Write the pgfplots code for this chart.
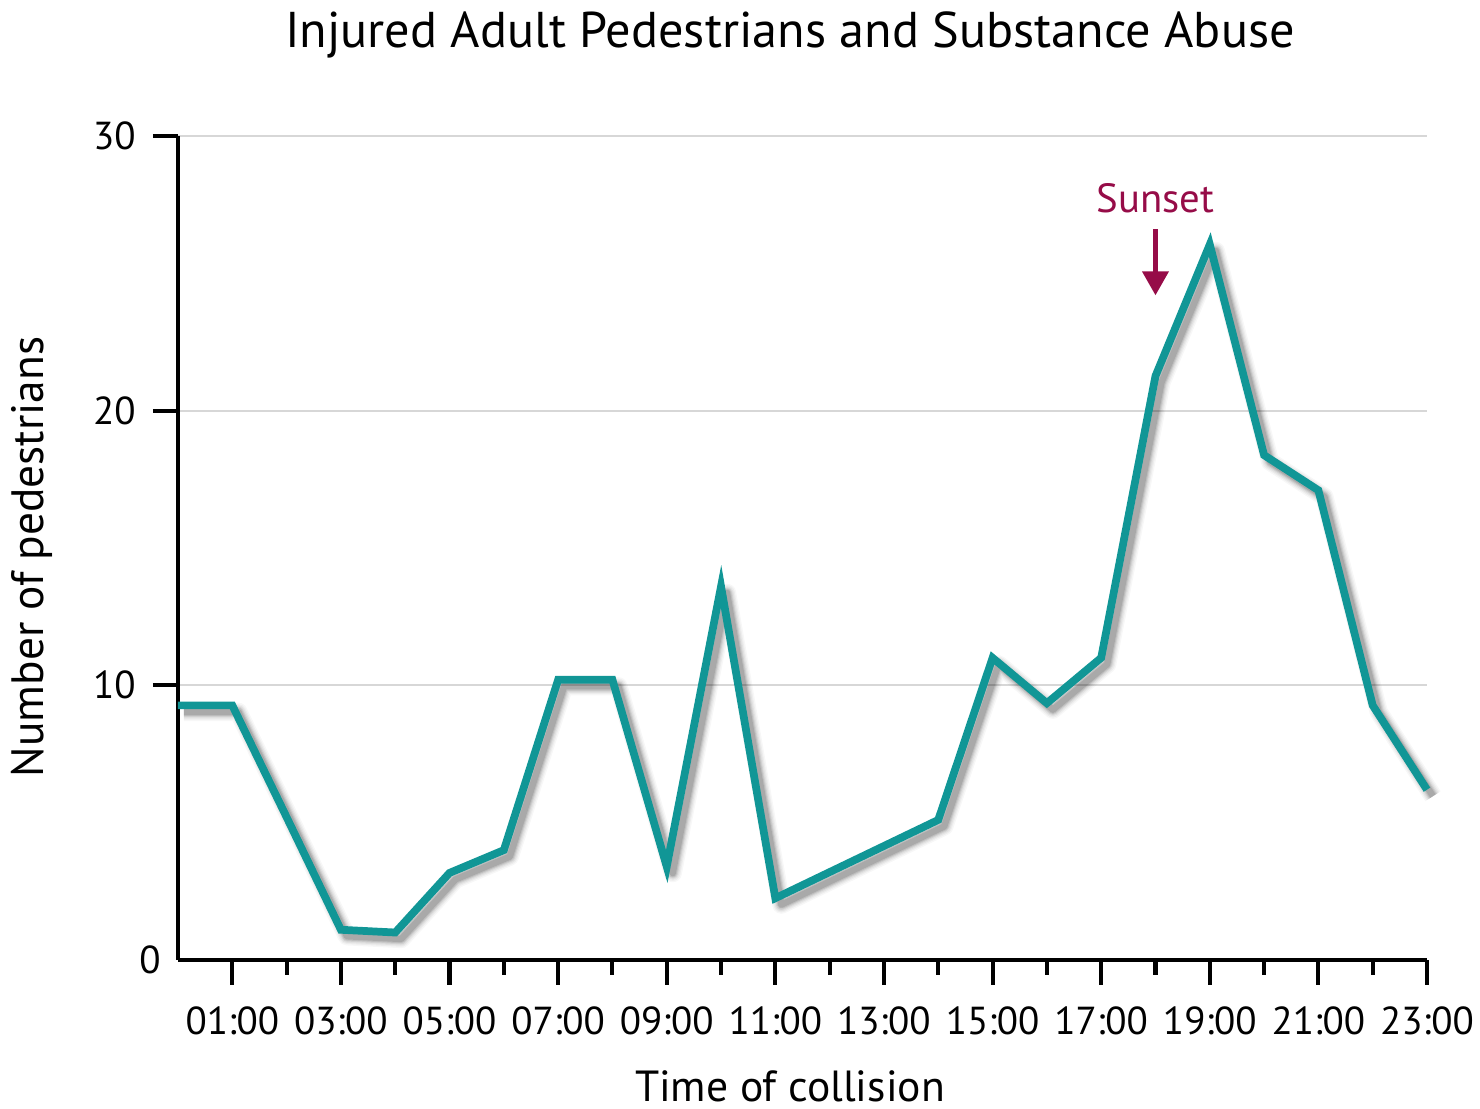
\documentclass[border=0pt]{standalone}
\usepackage{fontspec}
\setmainfont{PT Sans}
\usepackage{pgfplots}
\pgfplotsset{compat=1.18}
\usepackage{pgfplotstable}
\usetikzlibrary{arrows.meta}

\definecolor{lineteal}{RGB}{17,150,150}
\definecolor{sunsetred}{RGB}{150,12,72}
\definecolor{gridgray}{RGB}{215,215,215}

% Injured adult pedestrians by hour of collision
\pgfplotstableread{
hour count
0  9.27
1  9.27
2  5.2
3  1.1
4  1.0
5  3.17
6  4.0
7  10.2
8  10.2
9  3.4
10 13.6
11 2.25
12 3.2
13 4.15
14 5.1
15 11.0
16 9.35
17 11.0
18 21.26
19 26.05
20 18.38
21 17.1
22 9.27
23 6.2
}\pedestrians

\begin{document}
\begin{tikzpicture}
\begin{axis}[
  scale only axis,
  width=124.9mm, height=82.4mm,
  xmin=0, xmax=23, ymin=0, ymax=30,
  axis lines=left,
  axis line style={-, line width=1.15pt, black},
  xtick={1,3,...,23},
  xticklabels={01:00,03:00,05:00,07:00,09:00,11:00,13:00,15:00,17:00,19:00,21:00,23:00},
  minor xtick={2,4,...,22},
  ytick={10,20,30},
  extra y ticks={0},
  extra y tick style={major tick length=0pt, ymajorgrids=false},
  tick align=outside,
  major tick length=2.5mm,
  minor tick length=1.5mm,
  every tick/.style={black, line width=1.15pt},
  ymajorgrids,
  grid style={gridgray, line width=0.6pt},
  /pgf/number format/assume math mode=true,
  tick label style={font=\fontsize{11.1}{13}\selectfont},
  xticklabel style={yshift=-0.9mm},
  yticklabel style={xshift=-0.5mm},
  clip=false,
]
% soft drop shadow beneath the line
\foreach \w/\o in {5.2/0.03, 4.4/0.04, 3.7/0.05, 3.0/0.07, 2.4/0.09, 1.8/0.11} {
  \edef\doshadow{\noexpand\addplot[black, opacity=\o, line width=\w pt, line join=round,
    transform canvas={xshift=0.6mm, yshift=-0.65mm}] table[x=hour, y=count] {\noexpand\pedestrians};}
  \doshadow
}
\addplot[lineteal, line width=2.2pt, line join=miter, miter limit=10] table[x=hour, y=count] {\pedestrians};

\node[sunsetred, font=\fontsize{11.6}{14}\selectfont] at (axis cs:18,27.74) {Sunset};
\draw[sunsetred, line width=0.42mm, -{Triangle[width=2.6mm,length=2.4mm]}]
  (axis cs:18,26.6) -- (axis cs:18,24.2);
\end{axis}

\node[font=\fontsize{14.3}{17}\selectfont] at (61.2mm,92.5mm) {Injured Adult Pedestrians and Substance Abuse};
\node[font=\fontsize{12.4}{15}\selectfont] at (61.2mm,-12.6mm) {Time of collision};
\node[font=\fontsize{12.9}{15}\selectfont, rotate=90] at (-14.6mm,40.3mm) {Number of pedestrians};

\pgfresetboundingbox
\path[use as bounding box] (-17.8mm,-14.9mm) rectangle (130.2mm,96mm);
\end{tikzpicture}
\end{document}
